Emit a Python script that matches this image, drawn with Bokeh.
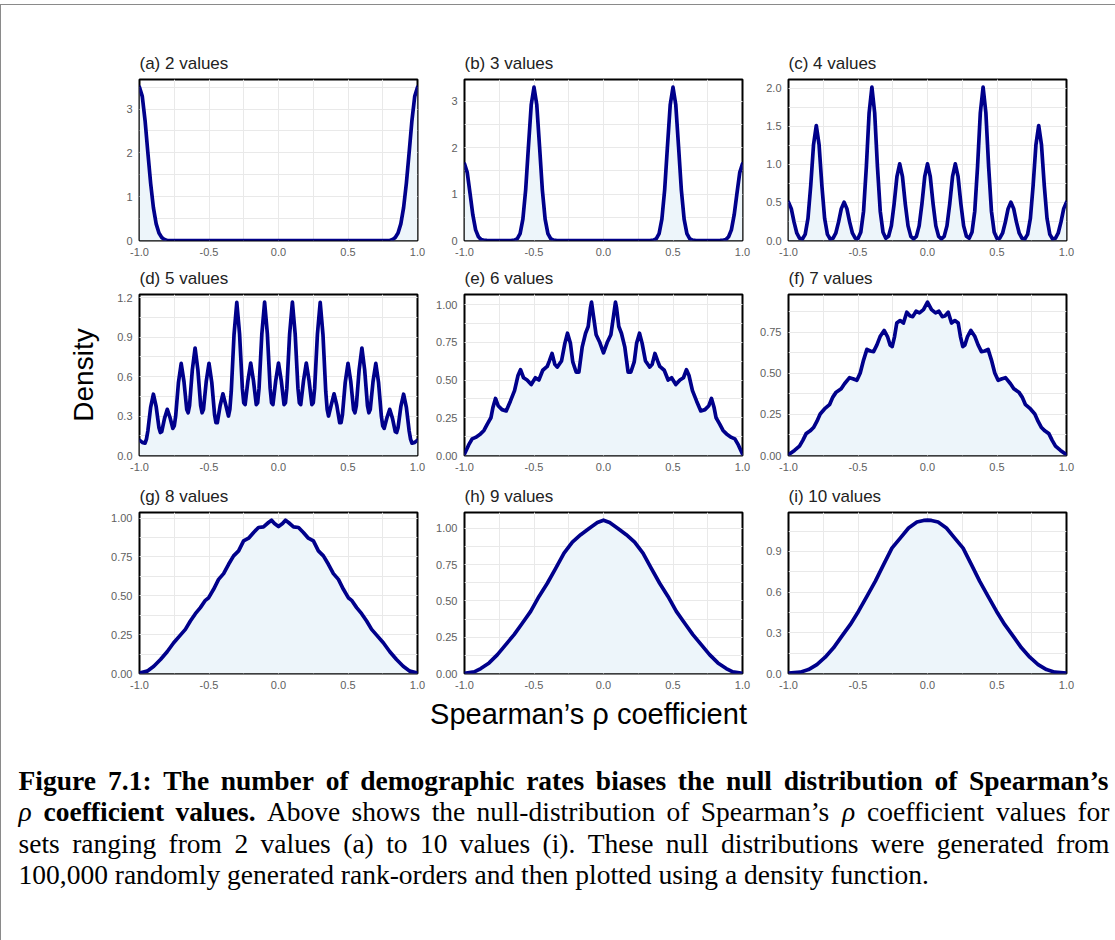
from bokeh.plotting import figure
from bokeh.layouts import row, column
from bokeh.models import Range1d, SingleIntervalTicker, NumeralTickFormatter, ColumnDataSource
from bokeh.core.properties import value
from bokeh.embed import file_html
from bokeh.resources import INLINE

# ---------------- data ----------------
x_a = [-1.00, -0.98, -0.96, -0.94, -0.92, -0.90, -0.88, -0.86, -0.84, -0.82, -0.80,
       0.80, 0.82, 0.84, 0.86, 0.88, 0.90, 0.92, 0.94, 0.96, 0.98, 1.00]
y_a = [3.50, 3.29, 2.74, 2.01, 1.31, 0.75, 0.38, 0.17, 0.07, 0.02, 0.0,
       0.0, 0.02, 0.07, 0.17, 0.38, 0.75, 1.31, 2.01, 2.74, 3.29, 3.50]

x_b = [-1.00, -0.98, -0.96, -0.94, -0.92, -0.90, -0.88, -0.86, -0.84, -0.82,
       -0.68, -0.66, -0.64, -0.62, -0.60, -0.58, -0.56, -0.54, -0.52, -0.50,
       -0.48, -0.46, -0.44, -0.42, -0.40, -0.38, -0.36, -0.34, -0.32,
       0.32, 0.34, 0.36, 0.38, 0.40, 0.42, 0.44, 0.46, 0.48, 0.50,
       0.52, 0.54, 0.56, 0.58, 0.60, 0.62, 0.64, 0.66, 0.68,
       0.82, 0.84, 0.86, 0.88, 0.90, 0.92, 0.94, 0.96, 0.98, 1.00]
y_b = [1.65, 1.46, 1.01, 0.55, 0.23, 0.08, 0.02, 0.004, 0.001, 0.0,
       0.0, 0.001, 0.008, 0.04, 0.15, 0.46, 1.09, 2.02, 2.92, 3.30,
       2.92, 2.02, 1.09, 0.46, 0.15, 0.04, 0.008, 0.001, 0.0,
       0.0, 0.001, 0.008, 0.04, 0.15, 0.46, 1.09, 2.02, 2.92, 3.30,
       2.92, 2.02, 1.09, 0.46, 0.15, 0.04, 0.008, 0.001, 0.0,
       0.0, 0.001, 0.004, 0.02, 0.08, 0.23, 0.55, 1.01, 1.46, 1.65]

x_c = [-1.00, -0.98, -0.96, -0.94, -0.92, -0.90, -0.88, -0.86, -0.84, -0.82,
       -0.80, -0.78, -0.76, -0.74, -0.72, -0.70, -0.68, -0.66, -0.64, -0.62,
       -0.60, -0.58, -0.56, -0.54, -0.52, -0.50, -0.48, -0.46, -0.44, -0.42,
       -0.40, -0.38, -0.36, -0.34, -0.32, -0.30, -0.28, -0.26, -0.24, -0.22,
       -0.20, -0.18, -0.16, -0.14, -0.12, -0.10, -0.08, -0.06, -0.04, -0.02,
       0.00, 0.02, 0.04, 0.06, 0.08, 0.10, 0.12, 0.14, 0.16, 0.18,
       0.20, 0.22, 0.24, 0.26, 0.28, 0.30, 0.32, 0.34, 0.36, 0.38,
       0.40, 0.42, 0.44, 0.46, 0.48, 0.50, 0.52, 0.54, 0.56, 0.58,
       0.60, 0.62, 0.64, 0.66, 0.68, 0.70, 0.72, 0.74, 0.76, 0.78,
       0.80, 0.82, 0.84, 0.86, 0.88, 0.90, 0.92, 0.94, 0.96, 0.98,
       1.00]
y_c = [0.503, 0.418, 0.241, 0.096, 0.029, 0.020, 0.081, 0.288, 0.724, 1.255,
       1.509, 1.255, 0.724, 0.288, 0.081, 0.020, 0.029, 0.096, 0.241, 0.418,
       0.503, 0.418, 0.241, 0.096, 0.030, 0.025, 0.108, 0.384, 0.966, 1.674,
       2.012, 1.674, 0.966, 0.384, 0.108, 0.030, 0.056, 0.192, 0.483, 0.837,
       1.006, 0.837, 0.483, 0.192, 0.054, 0.020, 0.054, 0.192, 0.483, 0.837,
       1.006, 0.837, 0.483, 0.192, 0.054, 0.020, 0.054, 0.192, 0.483, 0.837,
       1.006, 0.837, 0.483, 0.192, 0.056, 0.030, 0.108, 0.384, 0.966, 1.674,
       2.012, 1.674, 0.966, 0.384, 0.108, 0.025, 0.030, 0.096, 0.241, 0.418,
       0.503, 0.418, 0.241, 0.096, 0.029, 0.020, 0.081, 0.288, 0.724, 1.255,
       1.509, 1.255, 0.724, 0.288, 0.081, 0.020, 0.029, 0.096, 0.241, 0.418,
       0.503]

x_d = [-1.00, -0.98, -0.96, -0.95, -0.94, -0.92,
       -0.90, -0.88, -0.86, -0.85, -0.84, -0.82,
       -0.80, -0.78, -0.76, -0.75, -0.74, -0.72,
       -0.70, -0.68, -0.66, -0.65, -0.64, -0.62,
       -0.60, -0.58, -0.56, -0.55, -0.54, -0.52,
       -0.50, -0.48, -0.46, -0.45, -0.44, -0.42,
       -0.40, -0.38, -0.36, -0.35, -0.34, -0.32,
       -0.30, -0.28, -0.26, -0.25, -0.24, -0.22,
       -0.20, -0.18, -0.16, -0.15, -0.14, -0.12,
       -0.10, -0.08, -0.06, -0.05, -0.04, -0.02,
       0.00, 0.02, 0.04, 0.05, 0.06, 0.08,
       0.10, 0.12, 0.14, 0.15, 0.16, 0.18,
       0.20, 0.22, 0.24, 0.25, 0.26, 0.28,
       0.30, 0.32, 0.34, 0.35, 0.36, 0.38,
       0.40, 0.42, 0.44, 0.45, 0.46, 0.48,
       0.50, 0.52, 0.54, 0.55, 0.56, 0.58,
       0.60, 0.62, 0.64, 0.65, 0.66, 0.68,
       0.70, 0.72, 0.74, 0.75, 0.76, 0.78,
       0.80, 0.82, 0.84, 0.85, 0.86, 0.88,
       0.90, 0.92, 0.94, 0.95, 0.96, 0.98,
       1.00]
y_d = [0.117, 0.100, 0.094, 0.125, 0.186, 0.366,
       0.466, 0.371, 0.211, 0.175, 0.181, 0.282,
       0.351, 0.287, 0.206, 0.225, 0.298, 0.553,
       0.700, 0.562, 0.349, 0.325, 0.380, 0.651,
       0.817, 0.651, 0.380, 0.325, 0.349, 0.562,
       0.701, 0.555, 0.311, 0.250, 0.249, 0.378,
       0.469, 0.387, 0.300, 0.350, 0.485, 0.918,
       1.165, 0.923, 0.510, 0.400, 0.387, 0.569,
       0.703, 0.569, 0.387, 0.400, 0.510, 0.923,
       1.166, 0.923, 0.510, 0.400, 0.387, 0.569,
       0.703, 0.569, 0.387, 0.400, 0.510, 0.923,
       1.166, 0.923, 0.510, 0.400, 0.387, 0.569,
       0.703, 0.569, 0.387, 0.400, 0.510, 0.923,
       1.165, 0.918, 0.485, 0.350, 0.300, 0.387,
       0.469, 0.378, 0.249, 0.250, 0.311, 0.555,
       0.701, 0.562, 0.349, 0.325, 0.380, 0.651,
       0.817, 0.651, 0.380, 0.325, 0.349, 0.562,
       0.700, 0.553, 0.298, 0.225, 0.206, 0.287,
       0.351, 0.282, 0.181, 0.175, 0.211, 0.371,
       0.466, 0.366, 0.186, 0.125, 0.094, 0.100,
       0.117]

x_e = [-1.00, -0.97, -0.945, -0.92, -0.885, -0.86, -0.835, -0.81, -0.795, -0.777,
       -0.758, -0.73, -0.70, -0.67, -0.64, -0.615, -0.597, -0.575, -0.55, -0.52,
       -0.49, -0.465, -0.437, -0.405, -0.39, -0.37, -0.35, -0.333, -0.302, -0.278,
       -0.259, -0.238, -0.221, -0.197, -0.177, -0.153, -0.129, -0.11, -0.094, -0.086,
       -0.072, -0.053, -0.029, 0.0,
       0.029, 0.053, 0.072, 0.086, 0.094, 0.11, 0.129, 0.153, 0.177, 0.197,
       0.221, 0.238, 0.259, 0.278, 0.302, 0.333, 0.35, 0.37, 0.39, 0.405,
       0.437, 0.465, 0.49, 0.52, 0.55, 0.575, 0.597, 0.615, 0.64, 0.67,
       0.70, 0.73, 0.758, 0.777, 0.795, 0.81, 0.835, 0.86, 0.885, 0.92,
       0.945, 0.97, 1.00]
y_e = [0.01, 0.07, 0.11, 0.12, 0.143, 0.166, 0.21, 0.25, 0.32, 0.378,
       0.33, 0.304, 0.295, 0.36, 0.43, 0.53, 0.568, 0.515, 0.50, 0.47,
       0.515, 0.50, 0.565, 0.59, 0.625, 0.676, 0.604, 0.586, 0.626, 0.743,
       0.81, 0.743, 0.62, 0.553, 0.553, 0.72, 0.81, 0.855, 0.978, 1.016,
       0.922, 0.80, 0.754, 0.68,
       0.754, 0.80, 0.922, 1.016, 0.978, 0.855, 0.81, 0.72, 0.553, 0.553,
       0.62, 0.743, 0.81, 0.743, 0.626, 0.586, 0.604, 0.676, 0.625, 0.59,
       0.565, 0.50, 0.515, 0.47, 0.50, 0.515, 0.568, 0.53, 0.43, 0.36,
       0.295, 0.304, 0.33, 0.378, 0.32, 0.25, 0.21, 0.166, 0.143, 0.12,
       0.11, 0.07, 0.01]

x_f = [-1.00, -0.957, -0.921, -0.897, -0.873, -0.844, -0.82, -0.796, -0.772, -0.741,
       -0.705, -0.681, -0.657, -0.621, -0.597, -0.561, -0.537, -0.508, -0.484, -0.46,
       -0.436, -0.412, -0.388, -0.364, -0.341, -0.312, -0.288, -0.269, -0.254, -0.237,
       -0.221, -0.197, -0.173, -0.149, -0.125, -0.106, -0.082, -0.058, -0.029, 0.0,
       0.029, 0.058, 0.082, 0.106, 0.125, 0.149, 0.173, 0.197, 0.221,
       0.237, 0.254, 0.269, 0.288, 0.312, 0.341, 0.364, 0.388, 0.412, 0.436,
       0.46, 0.484, 0.508, 0.537, 0.561, 0.597, 0.621, 0.657, 0.681, 0.705,
       0.741, 0.772, 0.796, 0.82, 0.844, 0.873, 0.897, 0.921, 0.957, 1.00]
y_f = [0.005, 0.031, 0.057, 0.092, 0.133, 0.15, 0.17, 0.207, 0.252, 0.283,
       0.309, 0.355, 0.385, 0.406, 0.436, 0.473, 0.467, 0.457, 0.502, 0.58,
       0.645, 0.635, 0.631, 0.672, 0.723, 0.76, 0.723, 0.672, 0.662, 0.723,
       0.805, 0.82, 0.805, 0.871, 0.848, 0.844, 0.877, 0.867, 0.887, 0.932,
       0.887, 0.867, 0.877, 0.844, 0.848, 0.871, 0.805, 0.82, 0.805,
       0.723, 0.662, 0.672, 0.723, 0.76, 0.723, 0.672, 0.631, 0.635, 0.645,
       0.58, 0.502, 0.457, 0.467, 0.473, 0.436, 0.406, 0.385, 0.355, 0.309,
       0.283, 0.252, 0.207, 0.17, 0.15, 0.133, 0.092, 0.057, 0.031, 0.005]

x_g = [-1.00, -0.945, -0.897, -0.849, -0.801, -0.754, -0.706, -0.670, -0.634, -0.598,
       -0.562, -0.526, -0.502, -0.467, -0.431, -0.395, -0.359, -0.323, -0.287, -0.251,
       -0.215, -0.179, -0.144, -0.108, -0.072, -0.050, -0.029, 0.0,
       0.029, 0.050, 0.072, 0.108, 0.144, 0.179, 0.215, 0.251, 0.287, 0.323,
       0.359, 0.395, 0.431, 0.467, 0.502, 0.526, 0.562, 0.598, 0.634, 0.670,
       0.706, 0.754, 0.801, 0.849, 0.897, 0.945, 1.00]
y_g = [0.003, 0.015, 0.047, 0.09, 0.14, 0.198, 0.247, 0.284, 0.338, 0.385,
       0.424, 0.471, 0.488, 0.542, 0.606, 0.643, 0.703, 0.757, 0.789, 0.854,
       0.871, 0.908, 0.94, 0.944, 0.972, 0.987, 0.966, 0.946,
       0.966, 0.987, 0.972, 0.944, 0.94, 0.908, 0.871, 0.854, 0.789, 0.757,
       0.703, 0.643, 0.606, 0.542, 0.488, 0.471, 0.424, 0.385, 0.338, 0.284,
       0.247, 0.198, 0.14, 0.09, 0.047, 0.015, 0.003]

x_h = [-1.00, -0.93, -0.883, -0.823, -0.763, -0.703, -0.643, -0.583, -0.524, -0.464,
       -0.404, -0.344, -0.284, -0.224, -0.164, -0.104, -0.044, 0.0,
       0.044, 0.104, 0.164, 0.224, 0.284, 0.344, 0.404, 0.464, 0.524,
       0.583, 0.643, 0.703, 0.763, 0.823, 0.883, 0.93, 1.00]
y_h = [0.002, 0.011, 0.034, 0.073, 0.13, 0.199, 0.268, 0.348, 0.428, 0.531,
       0.622, 0.725, 0.83, 0.905, 0.957, 1.0, 1.041, 1.057,
       1.041, 1.0, 0.957, 0.905, 0.83, 0.725, 0.622, 0.531, 0.428,
       0.348, 0.268, 0.199, 0.13, 0.073, 0.034, 0.011, 0.002]

x_i = [-1.00, -0.916, -0.856, -0.796, -0.736, -0.676, -0.616, -0.556, -0.496, -0.436,
       -0.376, -0.316, -0.256, -0.196, -0.136, -0.076, -0.028, 0.0,
       0.028, 0.076, 0.136, 0.196, 0.256, 0.316, 0.376, 0.436, 0.496,
       0.556, 0.616, 0.676, 0.736, 0.796, 0.856, 0.916, 1.00]
y_i = [0.003, 0.01, 0.029, 0.066, 0.12, 0.189, 0.275, 0.36, 0.459, 0.569,
       0.679, 0.802, 0.924, 0.998, 1.072, 1.116, 1.128, 1.13,
       1.128, 1.116, 1.072, 0.998, 0.924, 0.802, 0.679, 0.569, 0.459,
       0.36, 0.275, 0.189, 0.12, 0.066, 0.029, 0.01, 0.003]

titles = ["(a) 2 values", "(b) 3 values", "(c) 4 values",
          "(d) 5 values", "(e) 6 values", "(f) 7 values",
          "(g) 8 values", "(h) 9 values", "(i) 10 values"]
series = [(x_a, y_a), (x_b, y_b), (x_c, y_c), (x_d, y_d), (x_e, y_e),
          (x_f, y_f), (x_g, y_g), (x_h, y_h), (x_i, y_i)]
y_tick_step = [1.0, 1.0, 0.5, 0.3, 0.25, 0.25, 0.25, 0.25, 0.3]
y_tick_fmt = ["0", "0", "0.0", "0.0", "0.00", "0.00", "0.00", "0.00", "0.0"]
x_tick_step = 0.5

x_label = "Spearman\u2019s \u03c1 coefficient"
y_label = "Density"

caption_lines = [
    [("Figure", "bold"), ("7.1:", "bold"), ("The", "bold"), ("number", "bold"), ("of", "bold"),
     ("demographic", "bold"), ("rates", "bold"), ("biases", "bold"), ("the", "bold"),
     ("null", "bold"), ("distribution", "bold"), ("of", "bold"), ("Spearman\u2019s", "bold")],
    [("\u03c1", "italic"), ("coefficient", "bold"), ("values.", "bold"), ("Above", "normal"),
     ("shows", "normal"), ("the", "normal"), ("null-distribution", "normal"), ("of", "normal"),
     ("Spearman\u2019s", "normal"), ("\u03c1", "italic"), ("coefficient", "normal"),
     ("values", "normal"), ("for", "normal")],
    [(w, "normal") for w in "sets ranging from 2 values (a) to 10 values (i). These null distributions were generated from".split()],
    [(w, "normal") for w in "100,000 randomly generated rank-orders and then plotted using a density function.".split()],
]

# ---------------- styling / layout ----------------
LINE = "#00008B"
FILL = "#EDF5FA"
GRID = "#E9E9E9"
TICK_COLOR = "#606060"
SANS = "Liberation Sans"
SERIF = "Liberation Serif"

X0, Y0 = 1, 5          # page offset of the content (outer frame line)
FW, FH = 278, 161
ML = [139 - X0, 37, 36]
MR = [10, 10, 49]
MT = [79 - Y0, 34, 36]
MB = [20, 21, 22]
COLW = [ML[i] + FW + MR[i] for i in range(3)]
MR[2] -= (sum(COLW) + X0 - 1115)


def make_panel(k):
    r, c = divmod(k, 3)
    xs, ys = series[k]
    p = figure(frame_width=FW, frame_height=FH,
               x_range=Range1d(-1, 1), y_range=Range1d(0, 1.05 * max(ys)),
               min_border_left=ML[c], min_border_right=MR[c],
               min_border_top=MT[r], min_border_bottom=MB[r],
               toolbar_location=None, output_backend="svg", title=titles[k])
    p.background_fill_color = "white"
    p.border_fill_color = "white"
    p.outline_line_color = "black"
    p.outline_line_width = 2
    p.title.text_font = SANS
    p.title.text_font_size = "17px"
    p.title.text_font_style = "normal"
    p.title.text_color = "#222222"
    p.title.align = "left"
    p.title.standoff = 13

    p.xaxis.ticker = SingleIntervalTicker(interval=x_tick_step, num_minor_ticks=2)
    p.yaxis.ticker = SingleIntervalTicker(interval=y_tick_step[k], num_minor_ticks=2)
    p.xaxis.formatter = NumeralTickFormatter(format="0.0")
    p.yaxis.formatter = NumeralTickFormatter(format=y_tick_fmt[k])
    for ax in (p.xaxis, p.yaxis):
        ax.axis_line_color = None
        ax.major_tick_line_color = None
        ax.minor_tick_line_color = None
        ax.major_tick_out = 0
        ax.major_tick_in = 0
        ax.minor_tick_out = 0
        ax.minor_tick_in = 0
        ax.major_label_text_font = SANS
        ax.major_label_text_font_size = "11px"
        ax.major_label_text_color = TICK_COLOR
    p.xaxis.major_label_standoff = 7
    p.yaxis.major_label_standoff = 7
    for g in (p.xgrid, p.ygrid):
        g.grid_line_color = GRID
        g.minor_grid_line_color = GRID
        g.grid_line_width = 1
        g.minor_grid_line_width = 1

    src = ColumnDataSource(dict(x=xs, y=ys))
    p.varea(x="x", y1=0, y2="y", source=src, fill_color=FILL)
    p.line(x="x", y="y", source=src, line_color=LINE, line_width=3.7,
           line_join="round", line_cap="round")

    if k == 3:
        p.yaxis.axis_label = y_label
        p.yaxis.axis_label_text_font = SANS
        p.yaxis.axis_label_text_font_size = "28px"
        p.yaxis.axis_label_text_font_style = "normal"
        p.yaxis.axis_label_text_color = "black"
        p.yaxis.axis_label_standoff = 15
    return p


panels = [make_panel(k) for k in range(9)]

# ---------------- bottom text area ----------------
TOP_OFF = 695
BH = 940 - TOP_OFF
BW = 1115 - X0
cap = figure(width=BW, height=BH, x_range=Range1d(X0, 1115), y_range=Range1d(940, TOP_OFF),
             min_border=0, toolbar_location=None, output_backend="svg", title=None,
             x_axis_location=None, y_axis_location=None)
cap.grid.visible = False
cap.outline_line_color = None
cap.background_fill_color = "white"
cap.border_fill_color = "white"

cap.text(x=[588], y=[713], text=[x_label], text_font=value(SANS),
         text_font_size=value("29px"), text_align="center", text_baseline="alphabetic",
         text_color="black")

TR = {' ': 250, '(': 333, ')': 333, ',': 250, '-': 333, '.': 250, ':': 278, '\u2019': 333,
      'A': 722, 'F': 556, 'S': 556, 'T': 611,
      'a': 444, 'b': 500, 'c': 444, 'd': 500, 'e': 444, 'f': 333, 'g': 500, 'h': 500,
      'i': 278, 'j': 278, 'k': 500, 'l': 278, 'm': 778, 'n': 500, 'o': 500, 'p': 500,
      'q': 500, 'r': 333, 's': 389, 't': 278, 'u': 500, 'v': 500, 'w': 722, 'x': 500,
      'y': 500, 'z': 444, '\u03c1': 500}
TB = {' ': 250, '(': 333, ')': 333, ',': 250, '-': 333, '.': 250, ':': 333, '\u2019': 333,
      'A': 722, 'F': 611, 'S': 556, 'T': 667,
      'a': 500, 'b': 556, 'c': 444, 'd': 556, 'e': 444, 'f': 333, 'g': 500, 'h': 556,
      'i': 278, 'j': 333, 'k': 556, 'l': 278, 'm': 833, 'n': 556, 'o': 500, 'p': 556,
      'q': 556, 'r': 444, 's': 389, 't': 333, 'u': 556, 'v': 500, 'w': 722, 'x': 500,
      'y': 500, 'z': 444, '\u03c1': 500}
CAP_SIZE = 27.5
CAP_LEFT, CAP_RIGHT = 18, 1109
CAP_BASE = [780, 811, 843, 874]


def tw(word, style):
    tab = TB if style == "bold" else TR
    return sum(tab.get(ch, 500) for ch in word) / 1000.0 * CAP_SIZE


runs = {"bold": dict(x=[], y=[], text=[]), "normal": dict(x=[], y=[], text=[]),
        "italic": dict(x=[], y=[], text=[])}
for li, line in enumerate(caption_lines):
    widths = [tw(w, s) for w, s in line]
    if li < len(caption_lines) - 1:
        gap = (CAP_RIGHT - CAP_LEFT - sum(widths)) / (len(line) - 1)
    else:
        gap = 0.25 * CAP_SIZE
    xpos = CAP_LEFT
    for (w, s), wd in zip(line, widths):
        runs[s]["x"].append(xpos)
        runs[s]["y"].append(CAP_BASE[li])
        runs[s]["text"].append(w)
        xpos += wd + gap

for style, d in runs.items():
    cap.text(x="x", y="y", text="text", source=ColumnDataSource(d),
             text_font=value(SERIF), text_font_size=value("%.1fpx" % CAP_SIZE),
             text_font_style=style, text_align="left", text_baseline="alphabetic",
             text_color="black")

grid_rows = [row(*panels[r * 3:(r + 1) * 3]) for r in range(3)]
layout = column(*grid_rows, cap,
                styles={"margin-top": "%dpx" % (Y0 - 1),
                        "border-top": "1px solid #8a8a8a",
                        "border-left": "1px solid #8a8a8a"})

open("out.html", "w").write(file_html(layout, INLINE))
